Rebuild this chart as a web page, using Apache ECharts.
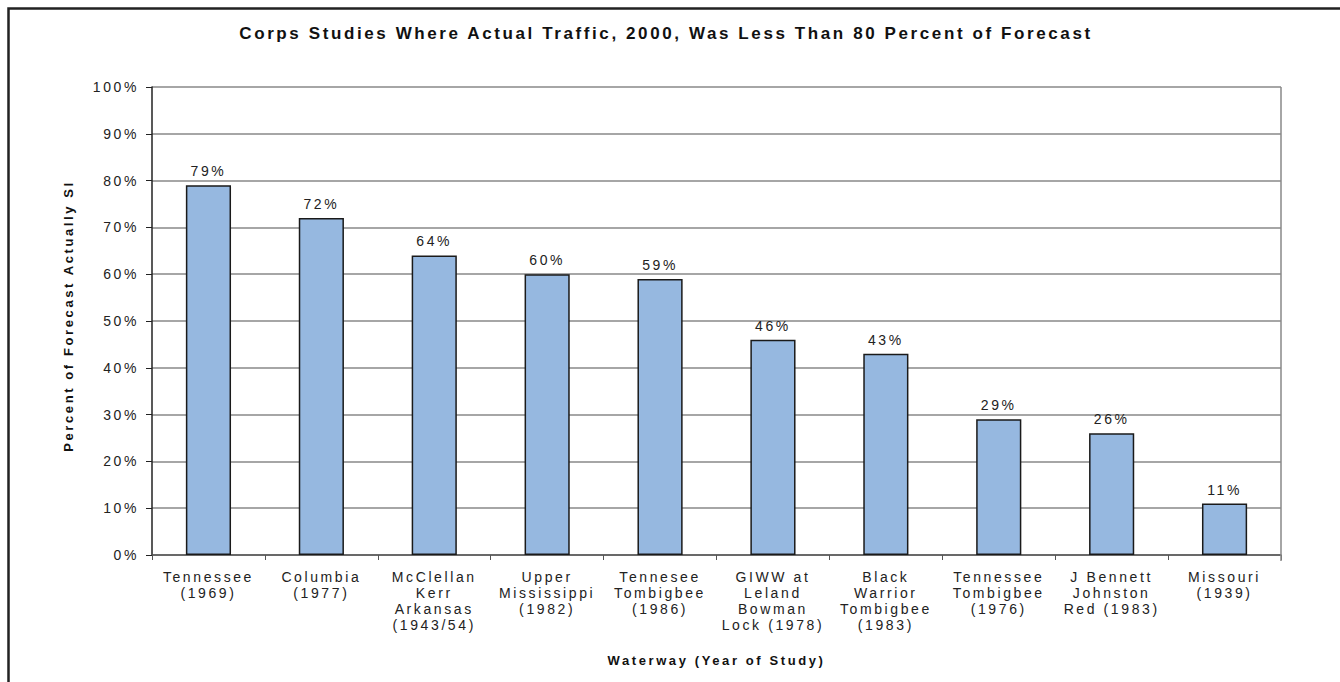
<!DOCTYPE html>
<html>
<head>
<meta charset="utf-8">
<script src="https://cdn.jsdelivr.net/npm/echarts@6/dist/echarts.min.js"></script>
<style>
  html, body { margin: 0; padding: 0; background: #fff; }
  #chart { width: 1340px; height: 682px; }
  /* wide character spacing used throughout the chart's text */
  #chart text { letter-spacing: 2.6px; }
</style>
</head>
<body>
<div id="chart"></div>
<script>
// Waterways, each label split over several lines
const categories = [
  "Tennessee\n(1969)",
  "Columbia\n(1977)",
  "McClellan\nKerr\nArkansas\n(1943/54)",
  "Upper\nMississippi\n(1982)",
  "Tennesee\nTombigbee\n(1986)",
  "GIWW at\nLeland\nBowman\nLock (1978)",
  "Black\nWarrior\nTombigbee\n(1983)",
  "Tennessee\nTombigbee\n(1976)",
  "J Bennett\nJohnston\nRed (1983)",
  "Missouri\n(1939)"
];

// Actual 2000 traffic as a percent of forecast
const percentOfForecast = [79, 72, 64, 60, 59, 46, 43, 29, 26, 11];

const yTicks = { min: 0, max: 100, interval: 10 };

const titleText = "Corps Studies Where Actual Traffic, 2000, Was Less Than 80 Percent of Forecast";
const yAxisTitle = "Percent of Forecast Actually Sl";
const xAxisTitle = "Waterway (Year of Study)";

const FONT = '"Liberation Sans", Arial, sans-serif';
const chart = echarts.init(document.getElementById('chart'), null, { renderer: 'svg' });

chart.setOption({
  animation: false,
  backgroundColor: '#ffffff',
  textStyle: { fontFamily: FONT },
  title: {
    text: titleText,
    left: 661,
    top: 20,
    textAlign: 'center',
    textStyle: { fontFamily: FONT, fontSize: 17, fontWeight: 'bold', color: '#111' }
  },
  graphic: [{
    // outer frame (left and top edges visible)
    type: 'rect',
    shape: { x: 8.5, y: 8.5, width: 1340, height: 690 },
    style: { fill: 'none', stroke: '#222', lineWidth: 2.5 },
    silent: true,
    z: 100
  }, {
    // right edge of the plot area
    type: 'line',
    shape: { x1: 1281, y1: 87, x2: 1281, y2: 561 },
    style: { stroke: '#888', lineWidth: 1.5 },
    silent: true,
    z: 50
  }],
  grid: { left: 152, right: 59, top: 87, bottom: 127, containLabel: false },
  xAxis: {
    type: 'category',
    data: categories,
    name: xAxisTitle,
    nameLocation: 'middle',
    nameGap: 99,
    nameTextStyle: { fontFamily: FONT, fontSize: 13, fontWeight: 'bold', color: '#111' },
    axisLine: { show: true, lineStyle: { color: '#555', width: 1.5 } },
    axisTick: { show: true, length: 5, alignWithLabel: false, lineStyle: { color: '#555' } },
    axisLabel: {
      interval: 0,
      margin: 14,
      fontFamily: FONT,
      fontSize: 14,
      lineHeight: 16,
      color: '#222',
      align: 'center'
    },
    splitLine: { show: false }
  },
  yAxis: {
    type: 'value',
    min: yTicks.min,
    max: yTicks.max,
    interval: yTicks.interval,
    name: yAxisTitle,
    nameLocation: 'middle',
    nameGap: 77,
    nameRotate: 90,
    nameTextStyle: {
      fontFamily: FONT, fontSize: 13, fontWeight: 'bold', color: '#111',
      padding: [0, 0, 0, 10]
    },
    axisLine: { show: true, lineStyle: { color: '#222', width: 1.5 } },
    axisTick: { show: true, length: 6, lineStyle: { color: '#222' } },
    axisLabel: {
      margin: 13,
      fontFamily: FONT,
      fontSize: 14,
      color: '#222',
      formatter: v => v + '%'
    },
    splitLine: { show: true, lineStyle: { color: '#888', width: 1.5 } }
  },
  series: [{
    type: 'bar',
    data: percentOfForecast,
    barWidth: '40%',
    itemStyle: { color: '#96B8E0', borderColor: '#1a1a1a', borderWidth: 1.5 },
    label: {
      show: true,
      position: 'top',
      distance: 7,
      fontFamily: FONT,
      fontSize: 14,
      color: '#222',
      formatter: p => p.value + '%'
    }
  }]
});
</script>
</body>
</html>
